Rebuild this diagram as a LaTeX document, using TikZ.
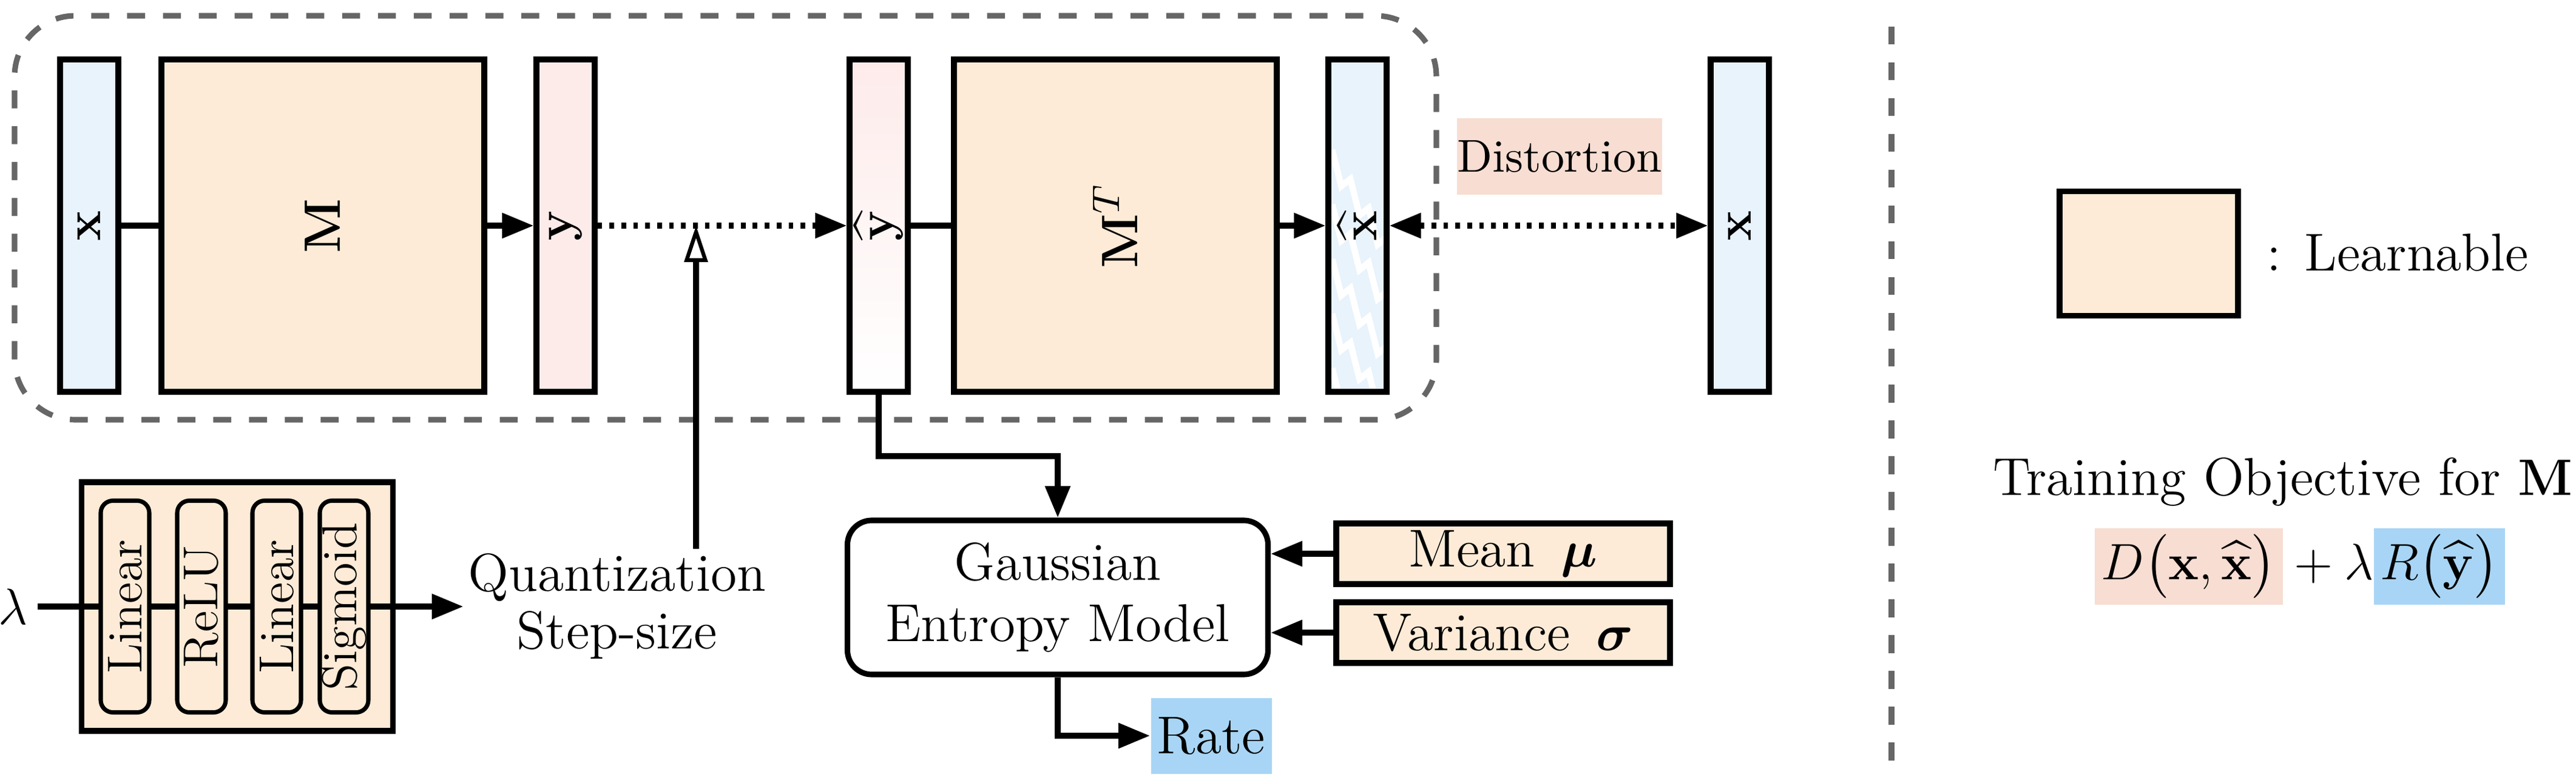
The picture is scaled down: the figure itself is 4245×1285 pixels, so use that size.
\documentclass[tikz,border=0pt]{standalone}
\usepackage{tikz}
\usetikzlibrary{arrows.meta,calc,shapes,positioning}
\usepackage{amsmath,amssymb}
\usepackage{graphicx}
\usepackage{xcolor}
\definecolor{Inpblue}{RGB}{232,243,252}
\definecolor{Learnpeach}{RGB}{253,235,215}
\definecolor{Latpink}{RGB}{253,235,234}
\definecolor{Distsalmon}{RGB}{247,221,210}
\definecolor{Rateblue}{RGB}{168,213,245}

\begin{document}
\begin{tikzpicture}[x=0.05mm,y=0.05mm,
  every node/.style={font=\fontsize{12.5}{14.5}\selectfont},
  vecbox/.style={draw,line width=1.3pt,minimum width=4.8mm,minimum height=27.4mm,inner sep=0pt},
  matbox/.style={vecbox,fill=Learnpeach,minimum width=26.6mm},
  layerbox/.style={draw,line width=1pt,fill=Learnpeach,rounded corners=1mm,minimum width=4mm,minimum height=17.45mm,inner sep=0pt,font=\fontsize{11.5}{13}\selectfont},
  parambox/.style={draw,line width=1.3pt,fill=Learnpeach,minimum width=27.5mm,minimum height=5mm,inner sep=1pt},
  conn/.style={line width=1.3pt},
  arr/.style={conn,-{Triangle[length=2.6mm,width=2mm]}},
  dotline/.style={dash pattern=on 1.1pt off 1.7pt},
  groupline/.style={line width=1.3pt,black!60,dash pattern=on 4.2pt off 4.2pt},
  noisy/.style={path picture={
    \foreach \k in {-2,...,6}
      \draw[white,line width=1.5pt,shift={(path picture bounding box.north west)}]
        (-10,{-30-\k*90}) -- ++(15,-60) -- ++(15,12) -- ++(15,-60) -- ++(15,12)
        -- ++(15,-60) -- ++(15,12) -- ++(15,-60);
  }}]
\useasboundingbox (0,0) rectangle (4245,1285);
%
% transform and inverse transform
\draw[groupline,rounded corners=5mm] (24,593) rectangle (2367,1259);
\node[vecbox,fill=Inpblue] (xin) at (147,913) {\rotatebox{90}{$\mathbf{x}$}};
\node[matbox] (enc) at (532,913) {\rotatebox{90}{$\mathbf{M}$}};
\node[vecbox,fill=Latpink] (code) at (932,913) {\rotatebox{90}{$\mathbf{y}$}};
\node[vecbox,top color=Latpink,bottom color=white] (codehat) at (1448,913) {\rotatebox{90}{$\widehat{\mathbf{y}}$}};
\node[matbox] (dec) at (1838,913) {\rotatebox{90}{$\mathbf{M}^T$}};
\node[vecbox,fill=Inpblue,noisy] (xrec) at (2237,913) {\rotatebox{90}{$\widehat{\mathbf{x}}$}};
\node[vecbox,fill=Inpblue] (xref) at (2867,913) {\rotatebox{90}{$\mathbf{x}$}};
\node[fill=Distsalmon,minimum width=16.75mm,minimum height=6.25mm,inner sep=0pt,font=\fontsize{10.8}{12}\selectfont] (dist) at (2570,1027) {Distortion};
\draw[conn] (xin) -- (enc);
\draw[arr] (enc) -- (code);
\draw[arr,dotline] (code) -- (codehat);
\draw[conn] (codehat) -- (dec);
\draw[arr] (dec) -- (xrec);
\draw[conn,dotline,{Triangle[length=2.6mm,width=2mm]}-{Triangle[length=2.6mm,width=2mm]}] (xrec) -- (xref);
%
% step-size network
\node[draw,line width=1.3pt,fill=Learnpeach,minimum width=25.65mm,minimum height=20.5mm] (mlp) at (391,285) {};
\node[inner sep=2pt] (lam) at (22,285) {$\lambda$};
\node[align=center,inner sep=1pt] (quant) at (1017,285) {Quantization\\[-1pt]Step-size};
\draw[arr] (lam) -- (quant);
\foreach \xc/\lbl [count=\i] in {206/Linear,332/ReLU,456/Linear,567/Sigmoid}
  \node[layerbox] (layer\i) at (\xc,285) {\rotatebox{90}{\lbl}};
\coordinate (qtip) at (1147,913);
\draw[conn,-{Triangle[open,length=3mm,width=1.9mm,line width=0.9pt]}] (quant.north -| qtip) -- (qtip);
%
% entropy model
\node[draw,line width=1.3pt,rounded corners=2mm,minimum width=34.65mm,minimum height=12.7mm,align=center] (gauss) at (1743,300) {Gaussian\\Entropy Model};
\node[parambox] (mean) at (2477,372) {Mean \,$\boldsymbol{\mu}$};
\node[parambox] (var) at (2477,242) {Variance \,$\boldsymbol{\sigma}$};
\node[fill=Rateblue,minimum width=9.95mm,minimum height=6.25mm,inner sep=0pt] (rate) at (1996,72) {Rate};
\coordinate (split) at (1600,533);
\draw[arr] (codehat.south) |- (split) -| (gauss.north);
\draw[arr] (mean.west) -- (mean.west -| gauss.east);
\draw[arr] (var.west) -- (var.west -| gauss.east);
\draw[arr] (gauss.south) |- (rate.west);
%
% legend and objective
\draw[groupline] (3117,31) -- (3117,1256);
\node[draw,line width=1.3pt,fill=Learnpeach,minimum width=14.7mm,minimum height=10.25mm] (learn) at (3541,867) {};
\node[anchor=west,inner sep=0pt] (learntxt) at (3734,869) {: Learnable};
\node (obj) at (3762,490) {Training Objective for $\mathbf{M}$};
\node (loss) at (3790,351) {\setlength{\fboxsep}{1.5pt}$\colorbox{Distsalmon}{$D\big(\mathbf{x},\widehat{\mathbf{x}}\big)$}+\lambda\colorbox{Rateblue}{$R\big(\widehat{\mathbf{y}}\big)$}$};
%
\end{tikzpicture}
\end{document}
